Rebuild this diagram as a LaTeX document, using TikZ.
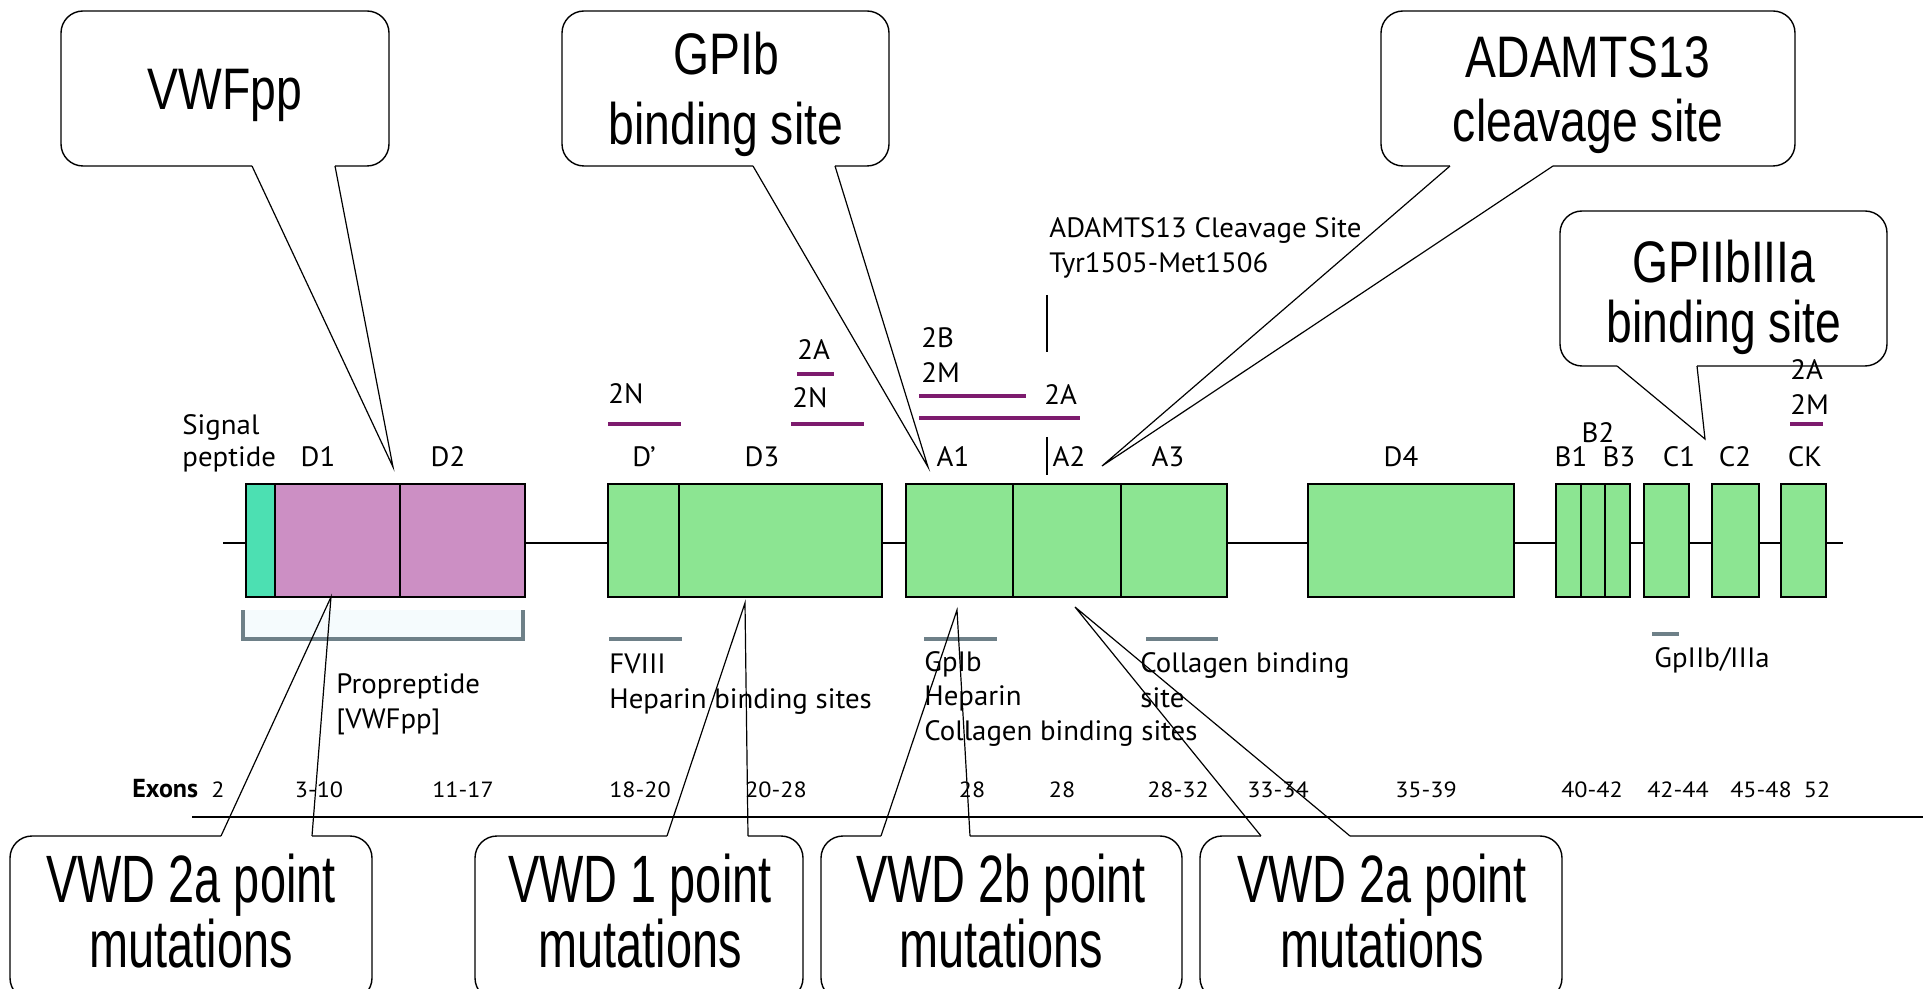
\documentclass[tikz,border=0pt]{standalone}
\usepackage{fontspec}
\setmainfont{PT Sans}
\newfontfamily\labelfont[FakeStretch=1.03]{PT Sans}
\newfontfamily\exonfont[FakeStretch=1.1]{PT Sans}
\newfontfamily\balloonfont[FakeStretch=0.79]{Liberation Sans}
\newfontfamily\balloonfontb[FakeStretch=0.70]{Liberation Sans}
\definecolor{domgreen}{RGB}{140,229,146}
\definecolor{dompink}{RGB}{204,143,196}
\definecolor{sigteal}{RGB}{76,224,178}
\definecolor{mutpurple}{RGB}{125,27,110}
\definecolor{sitegray}{RGB}{110,128,136}
\definecolor{palefill}{RGB}{245,251,253}
\begin{document}
\begin{tikzpicture}[x=0.5pt,y=-0.5pt,
  lab/.style={font=\labelfont\fontsize{14}{17}\selectfont, inner sep=0, anchor=base},
  labl/.style={lab, anchor=base west},
  exon/.style={font=\exonfont\fontsize{11}{13}\selectfont, inner sep=0, anchor=base},
  big/.style={font=\balloonfont\fontsize{29.3}{35}\selectfont, inner sep=0, anchor=base},
  bigb/.style={font=\balloonfontb\fontsize{33.5}{29.5}\selectfont, inner sep=0, anchor=base, align=center},
  frame/.style={draw=black, line width=0.7pt, fill=white, rounded corners=11pt},
  pointer/.style={draw=black, line width=0.6pt},
  gap/.style={draw=white, line width=2pt},
  dombox/.style={draw=black, line width=1.4pt},
  backbone/.style={draw=black, line width=1.4pt},
  mut/.style={draw=mutpurple, line width=2pt},
  site/.style={draw=sitegray, line width=1.6pt},
]
\path[use as bounding box, clip] (0,0) rectangle (1923,989);

% ---------- upper balloons ----------
\draw[frame] (61,11) rectangle (389,166);
\draw[frame] (562,11) rectangle (889,166);
\draw[frame] (1381,11) rectangle (1795,166);
\draw[frame] (1560,211) rectangle (1887,366);
\draw[gap] (252,166) -- (335,166);
\draw[gap] (753,166) -- (835,166);
\draw[gap] (1450,166) -- (1553,166);
\draw[gap] (1617,366) -- (1697,366);

\node[big] (tVWFpp) at (225,110) {VWFpp};
\node[big] (tGPIb1) at (726,75) {GPIb};
\node[big] (tGPIb2) at (726,145) {binding site};
\node[big] (tADA1) at (1588,78) {ADAMTS13};
\node[big] (tADA2) at (1588,142) {cleavage site};
\node[big] (tGP2b1) at (1724,283) {GPIIbIIIa};
\node[big] (tGP2b2) at (1724,343) {binding site};

% ---------- lower balloons ----------
\draw[frame] (10,836) rectangle (372,1000);
\draw[frame] (475,836) rectangle (803,1000);
\draw[frame] (821,836) rectangle (1182,1000);
\draw[frame] (1200,836) rectangle (1562,1000);
\draw[gap] (221,836) -- (312,836);
\draw[gap] (667,836) -- (748,836);
\draw[gap] (881,836) -- (970,836);
\draw[gap] (1261,836) -- (1350,836);

\node[bigb] (bA) at (191,967) {VWD 2a point\\mutations};
\node[bigb] (bB) at (640,967) {VWD 1 point\\mutations};
\node[bigb] (bC) at (1001,967) {VWD 2b point\\mutations};
\node[bigb] (bD) at (1382,967) {VWD 2a point\\mutations};

% ---------- backbone and domains ----------
\draw[backbone] (223,543) -- (1843,543);
\draw[dombox, fill=sigteal] (246,484) rectangle (275,597);
\draw[dombox, fill=dompink] (275,484) rectangle (400,597);
\draw[dombox, fill=dompink] (400,484) rectangle (525,597);
\draw[dombox, fill=domgreen] (608,484) rectangle (679,597);
\draw[dombox, fill=domgreen] (679,484) rectangle (882,597);
\draw[dombox, fill=domgreen] (906,484) rectangle (1013,597);
\draw[dombox, fill=domgreen] (1013,484) rectangle (1121,597);
\draw[dombox, fill=domgreen] (1121,484) rectangle (1227,597);
\draw[dombox, fill=domgreen] (1308,484) rectangle (1514,597);
\draw[dombox, fill=domgreen] (1556,484) rectangle (1581,597);
\draw[dombox, fill=domgreen] (1581,484) rectangle (1605,597);
\draw[dombox, fill=domgreen] (1605,484) rectangle (1630,597);
\draw[dombox, fill=domgreen] (1644,484) rectangle (1689,597);
\draw[dombox, fill=domgreen] (1712,484) rectangle (1759,597);
\draw[dombox, fill=domgreen] (1781,484) rectangle (1826,597);

% domain names
\node[labl] (sig1) at (182,435) {Signal};
\node[labl] (sig2) at (182,467) {peptide};
\node[lab] (nD1) at (318,467) {D1};
\node[lab] (nD2) at (448,467) {D2};
\node[lab] (nDp) at (644,467) {D’};
\node[lab] (nD3) at (762,467) {D3};
\node[lab] (nA1) at (953,467) {A1};
\node[lab] (nA2) at (1069,467) {A2};
\node[lab] (nA3) at (1168,467) {A3};
\node[lab] (nD4) at (1401,467) {D4};
\node[lab] (nB1) at (1571,467) {B1};
\node[lab] (nB2) at (1598,443) {B2};
\node[lab] (nB3) at (1619,467) {B3};
\node[lab] (nC1) at (1679,467) {C1};
\node[lab] (nC2) at (1735,467) {C2};
\node[lab] (nCK) at (1805,467) {CK};

% mutation clusters
\node[labl] (m2N1) at (608,404) {2N};
\draw[mut] (608,424) -- (681,424);
\node[labl] (m2A1) at (797,360) {2A};
\draw[mut] (797,374) -- (834,374);
\node[labl] (m2N2) at (792,408) {2N};
\draw[mut] (791,424) -- (864,424);
\node[labl] (m2B) at (921,348) {2B};
\node[labl] (m2M) at (921,383) {2M};
\draw[mut] (919,396) -- (1026,396);
\node[labl] (m2A2) at (1044,405) {2A};
\draw[mut] (919,418) -- (1080,418);
\node[labl] (m2A3) at (1790,380) {2A};
\node[labl] (m2M2) at (1790,415) {2M};
\draw[mut] (1790,424) -- (1823,424);

% cleavage site
\node[labl] (cl1) at (1049,238) {ADAMTS13 Cleavage Site};
\node[labl] (cl2) at (1049,273) {Tyr1505-Met1506};
\draw[black, line width=1.3pt] (1047,295) -- (1047,352);
\draw[black, line width=1.3pt] (1047,437) -- (1047,475);

% binding regions
\fill[palefill] (243,610) rectangle (523,639);
\draw[site] (243,610) -- (243,639) -- (523,639) -- (523,610);
\draw[site] (609,639) -- (682,639);
\draw[site] (924,639) -- (997,639);
\draw[site] (1146,639) -- (1218,639);
\draw[site] (1652,634) -- (1679,634);
\node[labl] (pp1) at (336,693) {Propreptide};
\node[labl] (pp2) at (336,728) {[VWFpp]};
\node[labl] (f1) at (609,673) {FVIII};
\node[labl] (f2) at (609,708) {Heparin binding sites};
\node[labl] (g1) at (924,671) {GpIb};
\node[labl] (g2) at (924,705) {Heparin};
\node[labl] (g3) at (924,740) {Collagen binding sites};
\node[labl] (c1) at (1140,672) {Collagen binding};
\node[labl] (c2) at (1140,707) {site};
\node[labl] (gp) at (1654,667) {GpIIb/IIIa};

% exon scale
\node[font=\bfseries\fontsize{13}{15}\selectfont, inner sep=0, anchor=base west] (ex) at (132,797) {Exons};
\node[exon] (e1) at (218,797) {2};
\node[exon] (e2) at (319,797) {3-10};
\node[exon] (e3) at (463,797) {11-17};
\node[exon] (e4) at (640,797) {18-20};
\node[exon] (e5) at (776,797) {20-28};
\node[exon] (e6) at (972,797) {28};
\node[exon] (e7) at (1062,797) {28};
\node[exon] (e8) at (1178,797) {28-32};
\node[exon] (e9) at (1278,797) {33-34};
\node[exon] (e10) at (1426,797) {35-39};
\node[exon] (e11) at (1592,797) {40-42};
\node[exon] (e12) at (1678,797) {42-44};
\node[exon] (e13) at (1761,797) {45-48};
\node[exon] (e14) at (1817,797) {52};
\draw[backbone] (192,817) -- (1923,817);

% ---------- balloon pointers ----------
\coordinate (kVWFpp) at (393,467);
\coordinate (kGPIb) at (928,467);
\coordinate (kADA) at (1102,466);
\coordinate (kGP2b) at (1705,439);
\coordinate (kV2aL) at (331,597);
\coordinate (kV1) at (745,603);
\coordinate (kV2b) at (957,610);
\coordinate (kV2aR) at (1075,607);
\draw[pointer] (252,166) -- (kVWFpp) -- (335,166);
\draw[pointer] (753,166) -- (kGPIb) -- (835,166);
\draw[pointer] (1450,166) -- (kADA) -- (1553,166);
\draw[pointer] (1617,366) -- (kGP2b) -- (1697,366);
\draw[pointer] (221,836) -- (kV2aL) -- (312,836);
\draw[pointer] (667,836) -- (kV1) -- (748,836);
\draw[pointer] (881,836) -- (kV2b) -- (970,836);
\draw[pointer] (1261,836) -- (kV2aR) -- (1350,836);
\end{tikzpicture}
\end{document}
